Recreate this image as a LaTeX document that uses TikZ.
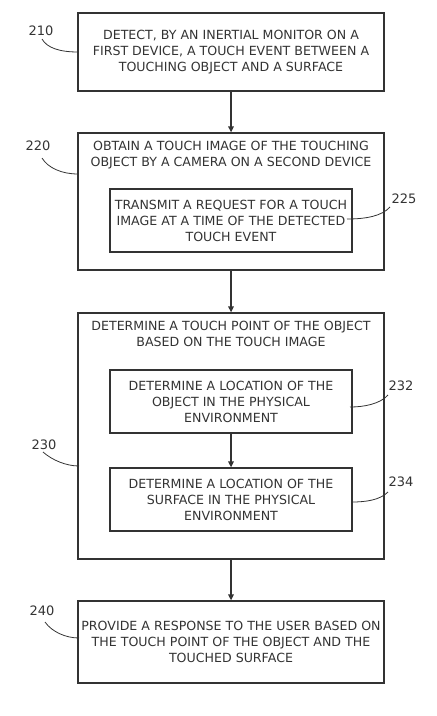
\documentclass[tikz,border=0pt]{standalone}
\usepackage{fontspec}
\setmainfont{DejaVu Sans}
\usetikzlibrary{arrows.meta}
\definecolor{ink}{HTML}{333333}
\tikzset{
  box/.style={draw=ink, line width=1.3pt, rectangle, inner sep=0pt},
  txt/.style={align=center, text=ink, font=\fontsize{12.6}{16}\selectfont, inner sep=0pt},
  lbl/.style={text=ink, font=\fontsize{13}{13}\selectfont, inner sep=0pt},
  lead/.style={draw=ink, line width=0.8pt},
  flow/.style={draw=ink, line width=1.3pt, -{Triangle[length=6pt,width=5.5pt]}}
}
\begin{document}
\begin{tikzpicture}[x=1pt,y=-1pt]
\useasboundingbox (0,0) rectangle (437,716);
% boxes
\node[box, minimum width=306pt, minimum height=78pt] (b210) at (231,52) {};
\node[txt] (t210) at (231,52) {DETECT, BY AN INERTIAL MONITOR ON A\\FIRST DEVICE, A TOUCH EVENT BETWEEN A\\TOUCHING OBJECT AND A SURFACE};
\node[box, minimum width=306pt, minimum height=137pt] (b220) at (231,201.5) {};
\node[txt] (t220) at (231,155) {OBTAIN A TOUCH IMAGE OF THE TOUCHING\\OBJECT BY A CAMERA ON A SECOND DEVICE};
\node[box, minimum width=242pt, minimum height=63pt] (b225) at (231,220.5) {};
\node[txt] (t225) at (231,220.5) {TRANSMIT A REQUEST FOR A TOUCH\\IMAGE AT A TIME OF THE DETECTED\\TOUCH EVENT};
\node[box, minimum width=306pt, minimum height=246pt] (b230) at (231,436) {};
\node[txt] (t230) at (231,334) {DETERMINE A TOUCH POINT OF THE OBJECT\\BASED ON THE TOUCH IMAGE};
\node[box, minimum width=242pt, minimum height=63pt] (b232) at (231,401.5) {};
\node[txt] (t232) at (231,401.5) {DETERMINE A LOCATION OF THE\\OBJECT IN THE PHYSICAL\\ENVIRONMENT};
\node[box, minimum width=242pt, minimum height=63pt] (b234) at (231,499.5) {};
\node[txt] (t234) at (231,499.5) {DETERMINE A LOCATION OF THE\\SURFACE IN THE PHYSICAL\\ENVIRONMENT};
\node[box, minimum width=306pt, minimum height=82pt] (b240) at (231,642) {};
\node[txt] (t240) at (231,642) {PROVIDE A RESPONSE TO THE USER BASED ON\\THE TOUCH POINT OF THE OBJECT AND THE\\TOUCHED SURFACE};
% arrows
\draw[flow] (b210.south) -- (b220.north);
\draw[flow] (b220.south) -- (b230.north);
\draw[flow] (b232.south) -- (b234.north);
\draw[flow] (b230.south) -- (b240.north);
% labels
\node[lbl] (l210) at (41,31) {210};
\node[lbl] (l220) at (38,146) {220};
\node[lbl] (l225) at (404,199) {225};
\node[lbl] (l232) at (401,386) {232};
\node[lbl] (l234) at (401,482) {234};
\node[lbl] (l230) at (44,445) {230};
\node[lbl] (l240) at (42,611) {240};
% leaders
\coordinate (e210) at (78,52);
\coordinate (e220) at (78,174);
\coordinate (e225) at (347,219);
\coordinate (e232) at (350,407);
\coordinate (e234) at (352,502);
\coordinate (e230) at (79,466);
\coordinate (e240) at (79,638);
\draw[lead] (42,39) .. controls (47,48) and (60,52) .. (e210);
\draw[lead] (42,158) .. controls (48,168) and (62,174) .. (e220);
\draw[lead] (390,207) .. controls (382,216) and (366,219) .. (e225);
\draw[lead] (388,395) .. controls (380,404) and (364,407) .. (e232);
\draw[lead] (388,492) .. controls (380,500) and (366,502) .. (e234);
\draw[lead] (43,452) .. controls (52,460) and (66,466) .. (e230);
\draw[lead] (45,622) .. controls (52,632) and (66,638) .. (e240);
\end{tikzpicture}
\end{document}
